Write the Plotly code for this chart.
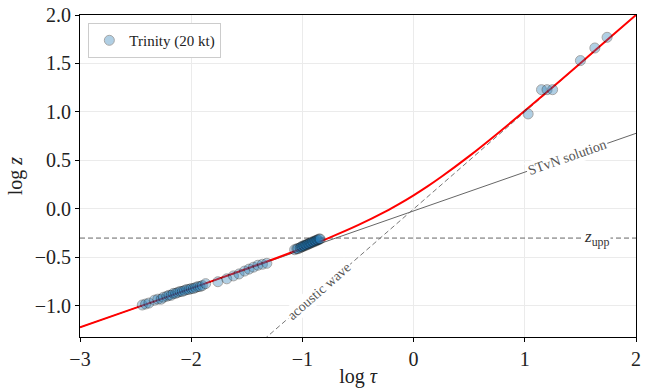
import plotly.graph_objects as go

# ---- data ----
trinity_logtau = [-2.44, -2.41, -2.38, -2.33, -2.30, -2.27, -2.25, -2.22, -2.20, -2.18,
                  -2.16, -2.14, -2.12, -2.10, -2.08, -2.06, -2.04, -2.02, -2.00, -1.98,
                  -1.96, -1.94, -1.92, -1.90, -1.87,
                  -1.76, -1.68, -1.62, -1.57, -1.52, -1.48, -1.44, -1.40, -1.36, -1.32,
                  -1.07, -1.05, -1.04, -1.02, -1.01, -1.00, -0.99, -0.98, -0.97, -0.96,
                  -0.95, -0.94, -0.93, -0.92, -0.91, -0.90, -0.89, -0.88, -0.87, -0.86, -0.85, -0.84,
                  1.03, 1.15, 1.20, 1.25, 1.50, 1.63, 1.74]
trinity_logz = [-0.99, -0.98, -0.97, -0.94, -0.93, -0.93, -0.91, -0.90, -0.89, -0.89,
                -0.87, -0.87, -0.86, -0.85, -0.85, -0.84, -0.83, -0.83, -0.82, -0.82,
                -0.81, -0.80, -0.80, -0.79, -0.77,
                -0.75, -0.72, -0.69, -0.67, -0.64, -0.62, -0.60, -0.58, -0.57, -0.56,
                -0.42, -0.41, -0.41, -0.40, -0.39, -0.39, -0.38, -0.38, -0.37, -0.37,
                -0.36, -0.36, -0.35, -0.35, -0.34, -0.34, -0.33, -0.33, -0.32, -0.32, -0.31, -0.31,
                0.98, 1.23, 1.23, 1.23, 1.53, 1.66, 1.77]

model_logtau = [-3.0, -2.5, -2.0, -1.5, -1.25, -1.0, -0.75, -0.5, -0.25, -0.125, 0.0,
                0.125, 0.25, 0.5, 0.75, 1.0, 1.25, 1.5, 1.75, 2.0]
model_logz = [-1.22, -1.02, -0.819, -0.616, -0.513, -0.405, -0.292, -0.167, -0.025, 0.055, 0.141,
              0.233, 0.332, 0.545, 0.774, 1.012, 1.256, 1.503, 1.752, 2.0]

stvn_logtau = [-3.0, 2.0]
stvn_logz = [-1.22, 0.78]

acoustic_logtau = [-1.4, 2.0]
acoustic_logz = [-1.4, 2.0]

z_upp = -0.3

x_ticks = [-3, -2, -1, 0, 1, 2]
y_ticks = [-1.0, -0.5, 0.0, 0.5, 1.0, 1.5, 2.0]

FONT = "Liberation Serif"

fig = go.Figure()

fig.add_trace(go.Scatter(x=[-3, 2], y=[z_upp, z_upp], mode="lines",
                         line=dict(color="#666666", width=1, dash="5px,3px"),
                         showlegend=False, hoverinfo="skip"))
fig.add_trace(go.Scatter(x=acoustic_logtau, y=acoustic_logz, mode="lines",
                         line=dict(color="#777777", width=1, dash="5px,3px"),
                         showlegend=False, hoverinfo="skip"))
fig.add_trace(go.Scatter(x=stvn_logtau, y=stvn_logz, mode="lines",
                         line=dict(color="#666666", width=1),
                         showlegend=False, hoverinfo="skip"))
fig.add_trace(go.Scatter(x=model_logtau, y=model_logz, mode="lines",
                         line=dict(color="red", width=2, shape="spline"),
                         showlegend=False, hoverinfo="skip"))
fig.add_trace(go.Scatter(x=trinity_logtau, y=trinity_logz, mode="markers",
                         name="Trinity (20 kt)",
                         marker=dict(size=10, color="#1f77b4", opacity=0.35,
                                     line=dict(color="black", width=1))))

fig.add_annotation(x=1.376, y=0.535, text="STvN solution", showarrow=False,
                   textangle=-19.3, bgcolor="white", borderpad=1,
                   font=dict(family=FONT, size=14, color="#555555"))
fig.add_annotation(x=-0.85, y=-0.855, text="acoustic wave", showarrow=False,
                   textangle=-41.2, bgcolor="white", borderpad=1,
                   font=dict(family=FONT, size=14, color="#555555"))
fig.add_annotation(x=1.65, y=z_upp, text="<i>z</i><sub>upp</sub>", showarrow=False,
                   bgcolor="white", borderpad=0,
                   font=dict(family=FONT, size=17, color="#333333"))

axis_common = dict(showline=True, linecolor="black", linewidth=1, mirror=True,
                   ticks="outside", ticklen=4, tickcolor="black",
                   showgrid=True, gridcolor="#ebebeb", gridwidth=1, zeroline=False,
                   automargin=False,
                   tickfont=dict(family=FONT, size=20, color="#222222"))

fig.update_xaxes(range=[-3, 2], tickvals=x_ticks,
                 title=dict(text="log <i>τ</i>", font=dict(family=FONT, size=20, color="#222222"),
                            standoff=2),
                 **axis_common)
fig.update_yaxes(range=[-1.32, 2.0], tickvals=y_ticks, tickformat=".1f",
                 title=dict(text="log <i>z</i>", font=dict(family=FONT, size=20, color="#222222"),
                            standoff=6),
                 **axis_common)

fig.update_layout(width=654, height=388, margin=dict(l=80, r=18, t=15, b=51),
                  paper_bgcolor="white", plot_bgcolor="white",
                  legend=dict(x=0.015, y=0.975, xanchor="left", yanchor="top",
                              bgcolor="white", bordercolor="#cccccc", borderwidth=1,
                              font=dict(family=FONT, size=15, color="#222222")),
                  font=dict(family=FONT))

fig.write_html("out.html")
